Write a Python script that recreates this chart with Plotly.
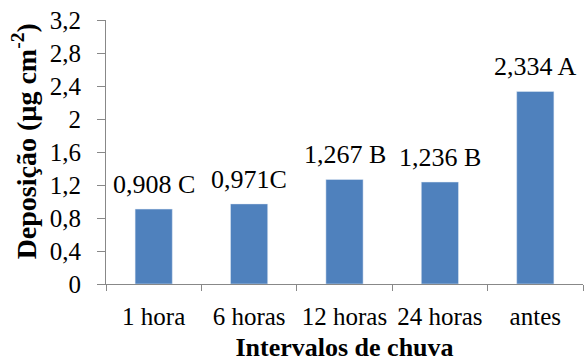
import plotly.graph_objects as go

categories = ["1 hora", "6 horas", "12 horas", "24 horas", "antes"]
deposition = [0.908, 0.971, 1.267, 1.236, 2.334]
letters = [" C", "C", " B", " B", " A"]

labels = [f"{v:.3f}".replace(".", ",") + s for v, s in zip(deposition, letters)]

SERIF = "Liberation Serif, Times New Roman, serif"

fig = go.Figure(
    go.Bar(
        x=categories,
        y=deposition,
        marker=dict(color="#4f81bd"),
        cliponaxis=False,
    )
)

# value labels sitting above each bar
for cat, val, lab in zip(categories, deposition, labels):
    fig.add_annotation(
        x=cat,
        y=val,
        text=lab,
        showarrow=False,
        yanchor="bottom",
        yshift=8,
        font=dict(family=SERIF, size=26, color="black"),
    )

# vertical axis title
fig.add_annotation(
    xref="paper",
    yref="paper",
    x=-0.17,
    y=0.54,
    xanchor="center",
    yanchor="middle",
    textangle=-90,
    showarrow=False,
    text="<b>Deposição (µg cm<sup>-2</sup>)</b>",
    font=dict(family=SERIF, size=28, color="black"),
)

fig.update_layout(
    width=587,
    height=362,
    margin=dict(l=106, r=4, t=20, b=78),
    paper_bgcolor="white",
    plot_bgcolor="white",
    bargap=0.61,
    separators=",.",
    showlegend=False,
    font=dict(family=SERIF, size=25, color="black"),
)

fig.update_xaxes(
    showline=True,
    linecolor="#888888",
    linewidth=1,
    ticks="outside",
    tickson="boundaries",
    ticklen=6,
    tickcolor="#888888",
    ticklabelstandoff=10,
    tickfont=dict(family=SERIF, size=25),
    automargin=False,
    title=dict(
        text="<b>Intervalos de chuva</b>",
        font=dict(family=SERIF, size=26),
        standoff=9,
    ),
)

fig.update_yaxes(
    range=[0, 3.2],
    dtick=0.4,
    tick0=0,
    showgrid=False,
    zeroline=False,
    showline=True,
    linecolor="#888888",
    linewidth=1,
    ticks="outside",
    ticklen=8,
    tickcolor="#888888",
    ticklabelstandoff=11,
    tickfont=dict(family=SERIF, size=25),
    automargin=False,
)

fig.write_html("out.html")
